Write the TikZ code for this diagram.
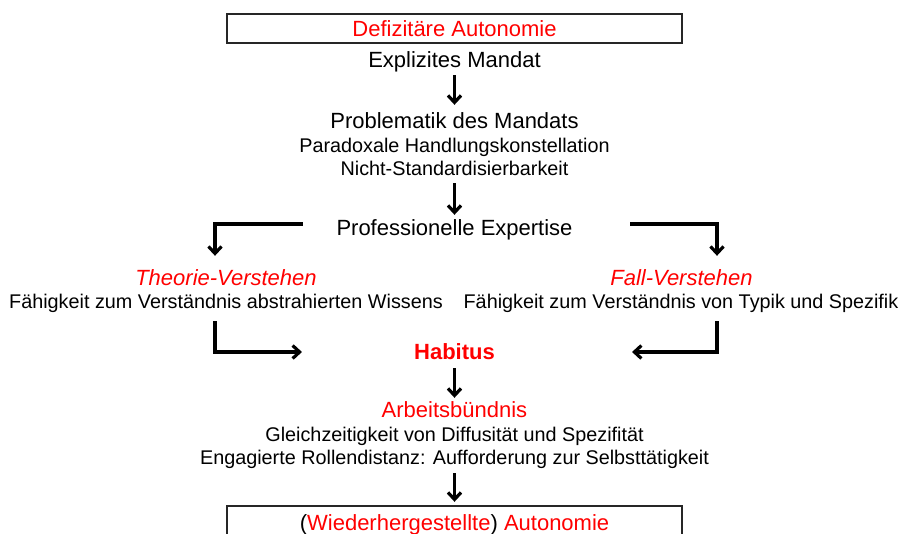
\documentclass[tikz,border=0pt]{standalone}
\usepackage{fontspec}
\setmainfont{Liberation Sans}
\usetikzlibrary{arrows.meta}
\definecolor{hred}{RGB}{255,0,0}
\begin{document}
\begin{tikzpicture}[x=1pt,y=-1pt,
 bigfont/.style={font=\fontsize{22}{26}\selectfont},
 big/.style={bigfont, inner sep=0pt, text height=16pt, text depth=5pt, anchor=base},
 small/.style={font=\fontsize{19.8}{24}\selectfont, inner sep=0pt, text height=14.5pt, text depth=4.5pt, anchor=base},
 boxnode/.style={draw=black!85, line width=1.8pt, minimum width=455pt, inner sep=0pt, text height=16pt, text depth=0pt, bigfont},
 redit/.style={text=hred, font=\fontsize{22}{26}\selectfont\itshape},
 arr/.style={line width=3.2pt, -{Straight Barb[length=7pt,width=13pt]}}
]
\useasboundingbox (0,0) rectangle (902,533);

\node[boxnode, minimum height=29pt] (defi) at (454.5,28.5) {\textcolor{hred}{Defizitäre Autonomie}};
\node[big] (expl) at (454.5,67) {Explizites Mandat};
\node[big] (probl) at (454.5,128) {Problematik des Mandats};
\node[small] (para) at (454.5,152) {Paradoxale Handlungskonstellation};
\node[small] (nicht) at (454.5,175) {Nicht-Standardisierbarkeit};
\node[big] (prof) at (454.5,235) {Professionelle Expertise};
\node[big, redit] (theo) at (226,285) {Theorie-Verstehen};
\node[small] (faeL) at (226,308) {Fähigkeit zum Verständnis abstrahierten Wissens};
\node[big, redit] (fall) at (681.5,285) {Fall-Verstehen};
\node[small] (faeR) at (681,308) {Fähigkeit zum Verständnis von Typik und Spezifik};
\node[big, text=hred, font=\fontsize{22}{26}\selectfont\bfseries] (hab) at (454.5,359) {Habitus};
\node[big, text=hred] (arb) at (454.5,417) {Arbeitsbündnis};
\node[small] (gleich) at (454.5,441) {Gleichzeitigkeit von Diffusität und Spezifität};
\node[small] (eng) at (454.5,464) {Engagierte Rollendistanz: Aufforderung zur Selbsttätigkeit};
\node[boxnode, minimum height=32pt] (auto) at (454.5,522) {(\textcolor{hred}{Wiederhergestellte}) \textcolor{hred}{Autonomie}};

\draw[arr, shorten <=3pt, shorten >=7pt] (expl.south) -- (probl.north);
\draw[arr, shorten <=3.5pt, shorten >=4pt] (nicht.south) -- (prof.north);
\draw[arr, shorten >=13pt] ([xshift=-33.6pt,yshift=5.5pt]prof.west) -| ([xshift=-11pt]theo.north);
\draw[arr, shorten >=13pt] ([xshift=57.4pt,yshift=5.5pt]prof.east) -| ([xshift=35.5pt]fall.north);
\draw[arr, shorten <=8.5pt, shorten >=112pt] ([xshift=-11pt]faeL.south) |- ([yshift=1.5pt]hab.west);
\draw[arr, shorten <=8.5pt, shorten >=137pt] ([xshift=36pt]faeR.south) |- ([yshift=1.5pt]hab.east);
\draw[arr, shorten <=4pt, shorten >=3pt] (hab.south) -- (arb.north);
\draw[arr, shorten <=4.5pt, shorten >=3.3pt] (eng.south) -- (auto.north);
\end{tikzpicture}
\end{document}
